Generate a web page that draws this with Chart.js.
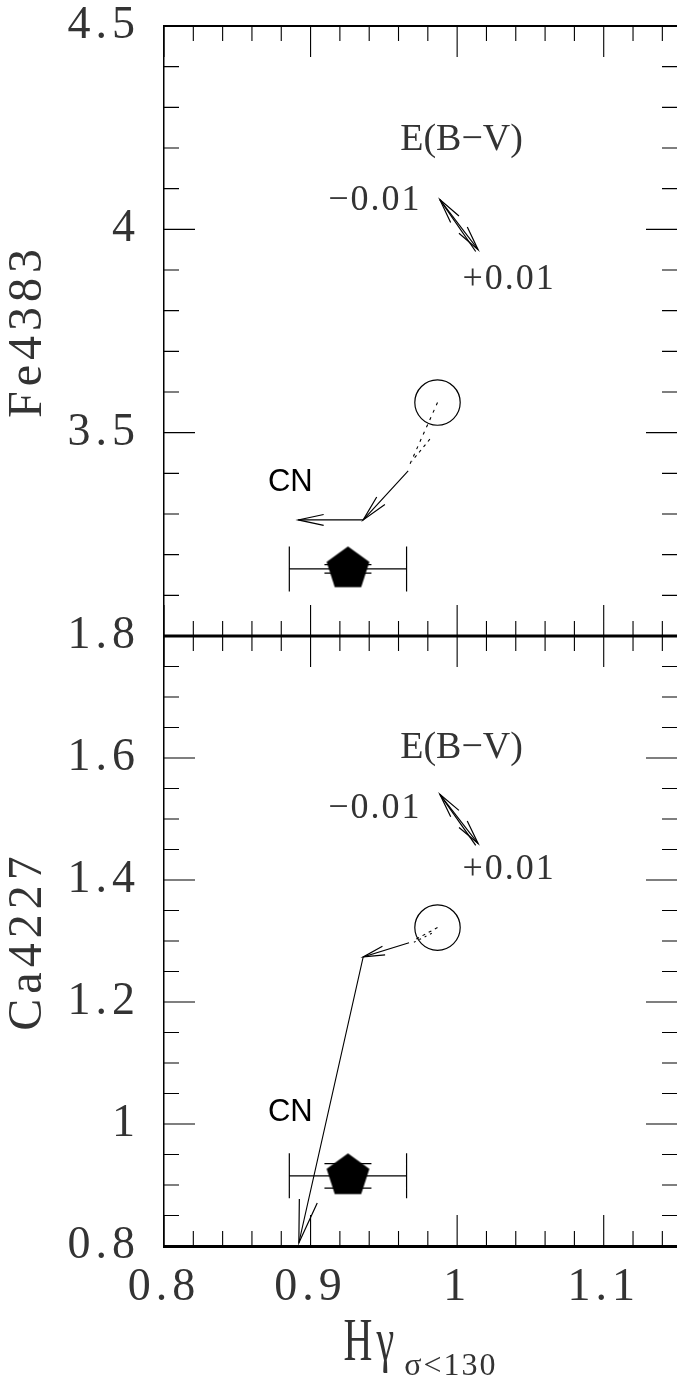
<!DOCTYPE html>
<html>
<head>
<meta charset="utf-8">
<script src="https://cdn.jsdelivr.net/npm/chart.js@4.4.1/dist/chart.umd.min.js"></script>
<style>
  html, body { margin: 0; padding: 0; background: #fff; }
  canvas { display: block; }
</style>
</head>
<body>
<canvas id="fig" width="677" height="1379"></canvas>
<script>
/* ---------- axis ticks ---------- */
const hgStep = 0.02, hgMajor = 0.1;      // Hγ, shared x axis
const feStep = 0.1, feMajor = 0.5;       // Fe4383, top panel
const caStep = 0.05, caMajor = 0.2;      // Ca4227, bottom panel

/* ---------- cluster mean (filled pentagon) ---------- */
const obsHg = [0.9255];
const obsHgErr = [0.04];
const obsFe = [3.165];
const obsFeErr = [0.0105];
const obsCa = [0.915];
const obsCaErr = [0.02];

/* ---------- model prediction (open circle) ---------- */
const modelHg = [0.9866];
const modelFe = [3.574];
const modelCa = [1.322];

/* ---------- top panel vectors ---------- */
const feTrack1Hg = [0.9866, 0.9677], feTrack1Fe = [3.574, 3.422];
const feTrack2Hg = [0.9814, 0.9691], feTrack2Fe = [3.484, 3.430];
const feCnHg = [0.9666, 0.9359, 0.8916], feCnFe = [3.406, 3.2855, 3.2855];
const feEbvHg = [0.9882, 1.0143], feEbvFe = [4.073, 3.950];

/* ---------- bottom panel vectors ---------- */
const caTrack1Hg = [0.9866, 0.9711], caTrack1Ca = [1.322, 1.302];
const caTrack2Hg = [0.9827, 0.9705], caTrack2Ca = [1.3126, 1.2979];
const caCnHg = [0.9672, 0.9359, 0.8920], caCnCa = [1.297, 1.274, 0.805];
const caEbvHg = [0.9882, 1.0143], caEbvCa = [1.5405, 1.4597];

/* ---------- annotations ---------- */
const noteText = ['E(B\u2212V)', '\u22120.01', '+0.01', 'CN'];
const noteHg = [1.003, 0.9439, 1.0354, 0.8862];
const noteFe = [4.220, 4.070, 3.876, 3.378];
const noteCa = [1.616, 1.5167, 1.4167, 1.0192];

/* ---------- styling ---------- */
const serif = "'Liberation Serif', 'DejaVu Serif', serif";
const sans = "'Liberation Sans', Arial, sans-serif";
const ink = '#000';
const textInk = '#333';
const minorLen = 15, majorLen = 31;
const noteStyle = [
  { font: `38px ${serif}`, spacing: '0px' },
  { font: `36px ${serif}`, spacing: '2px' },
  { font: `36px ${serif}`, spacing: '2px' },
  { font: `31px ${sans}`, spacing: '0px' },
];

const isMultiple = (v, step) => Math.abs(v / step - Math.round(v / step)) < 1e-6;
const fmt = v => String(Number(v.toFixed(2)));
const pts = (xs, ys) => xs.map((x, i) => ({ x, y: ys[i] }));

function makePentagon(r) {
  const c = document.createElement('canvas');
  const s = Math.ceil(2 * r + 4);
  c.width = s; c.height = s;
  const g = c.getContext('2d');
  g.translate(s / 2, s / 2);
  g.beginPath();
  for (let k = 0; k < 5; k++) {
    const a = -Math.PI / 2 + k * 2 * Math.PI / 5;
    g.lineTo(r * Math.cos(a), r * Math.sin(a));
  }
  g.closePath();
  g.fillStyle = ink;
  g.fill();
  return c;
}
const pentagon = makePentagon(22.5);

function markerSets(axis, ys, yErr, modelYs) {
  return [
    { yAxisID: axis, data: pts(obsHg, ys), xErr: obsHgErr, yErr,
      pointStyle: pentagon, pointRadius: 22 },
    { yAxisID: axis, data: pts(modelHg, modelYs), pointStyle: 'circle', pointRadius: 22.7,
      borderColor: ink, borderWidth: 1.2, backgroundColor: 'rgba(0,0,0,0)' },
  ];
}
function pathSet(axis, xs, ys, extra) {
  return Object.assign({ yAxisID: axis, data: pts(xs, ys), showLine: true, pointRadius: 0,
    borderColor: ink, borderWidth: 1.1, fill: false }, extra);
}

const datasets = [
  ...markerSets('yFe', obsFe, obsFeErr, modelFe),
  pathSet('yFe', feTrack1Hg, feTrack1Fe, { borderDash: [3, 5] }),
  pathSet('yFe', feTrack2Hg, feTrack2Fe, { borderDash: [3, 4] }),
  pathSet('yFe', feCnHg, feCnFe, { heads: [[0, 1], [1, 2]] }),
  pathSet('yFe', feEbvHg, feEbvFe, { heads: [[1, 0], [0, 1]], twin: true }),
  ...markerSets('yCa', obsCa, obsCaErr, modelCa),
  pathSet('yCa', caTrack1Hg, caTrack1Ca, { borderDash: [3, 4] }),
  pathSet('yCa', caTrack2Hg, caTrack2Ca, { borderDash: [2, 4] }),
  pathSet('yCa', caCnHg, caCnCa, { heads: [[0, 1], [1, 2]] }),
  pathSet('yCa', caEbvHg, caEbvCa, { heads: [[1, 0], [0, 1]], twin: true }),
];

/* wide glyph spacing for the axis numbers and titles */
const spacingPlugin = {
  id: 'spacing',
  beforeUpdate(chart) { chart.ctx.letterSpacing = '5px'; },
  beforeDraw(chart) { chart.ctx.letterSpacing = '5px'; },
};

/* horizontal and vertical error bars under the pentagons */
const errorBarPlugin = {
  id: 'errorBars',
  beforeDatasetsDraw(chart) {
    const { ctx, scales } = chart;
    ctx.save();
    ctx.strokeStyle = ink;
    ctx.lineWidth = 1.2;
    chart.data.datasets.forEach(ds => {
      if (!ds.xErr) return;
      const ys = scales[ds.yAxisID];
      ds.data.forEach((d, j) => {
        const cx = scales.x.getPixelForValue(d.x), cy = ys.getPixelForValue(d.y);
        const xl = scales.x.getPixelForValue(d.x - ds.xErr[j]);
        const xr = scales.x.getPixelForValue(d.x + ds.xErr[j]);
        const yt = ys.getPixelForValue(d.y + ds.yErr[j]);
        const yb = ys.getPixelForValue(d.y - ds.yErr[j]);
        ctx.beginPath();
        ctx.moveTo(xl, cy); ctx.lineTo(xr, cy);
        ctx.moveTo(xl, cy - 22.5); ctx.lineTo(xl, cy + 22.5);
        ctx.moveTo(xr, cy - 22.5); ctx.lineTo(xr, cy + 22.5);
        ctx.moveTo(cx, yt); ctx.lineTo(cx, yb);
        ctx.moveTo(cx - 23.5, yt); ctx.lineTo(cx + 23.5, yt);
        ctx.moveTo(cx - 23.5, yb); ctx.lineTo(cx + 23.5, yb);
        ctx.stroke();
      });
    });
    ctx.restore();
  },
};

/* open arrow heads on the vectors, plus the text notes */
const arrowPlugin = {
  id: 'arrows',
  afterDatasetsDraw(chart) {
    const { ctx, scales } = chart;
    ctx.save();
    ctx.strokeStyle = ink;
    ctx.lineWidth = 1.2;
    chart.data.datasets.forEach((ds, i) => {
      if (!ds.heads) return;
      const el = chart.getDatasetMeta(i).data;
      ds.heads.forEach(([from, to]) => {
        const p0 = el[from], p1 = el[to];
        const dx = p1.x - p0.x, dy = p1.y - p0.y;
        const len = Math.hypot(dx, dy);
        const ang = Math.atan2(dy, dx);
        const head = Math.max(22, Math.min(44, len * 0.4));
        const spread = 0.21;
        ctx.beginPath();
        ctx.moveTo(p1.x - head * Math.cos(ang - spread), p1.y - head * Math.sin(ang - spread));
        ctx.lineTo(p1.x, p1.y);
        ctx.lineTo(p1.x - head * Math.cos(ang + spread), p1.y - head * Math.sin(ang + spread));
        ctx.stroke();
      });
      if (ds.twin) {
        const a = el[0], b = el[1];
        const len = Math.hypot(b.x - a.x, b.y - a.y);
        const nx = -(b.y - a.y) / len * 3, ny = (b.x - a.x) / len * 3;
        ctx.beginPath();
        ctx.moveTo(a.x, a.y); ctx.lineTo(b.x + nx, b.y + ny);
        ctx.stroke();
      }
    });

    ctx.textAlign = 'center';
    ctx.textBaseline = 'middle';
    [['yFe', noteFe], ['yCa', noteCa]].forEach(([axis, ys]) => {
      noteText.forEach((t, k) => {
        ctx.font = noteStyle[k].font;
        ctx.letterSpacing = noteStyle[k].spacing;
        ctx.fillStyle = k === 3 ? ink : textInk;
        ctx.fillText(t, scales.x.getPixelForValue(noteHg[k]), scales[axis].getPixelForValue(ys[k]));
      });
    });
    ctx.restore();
  },
};

/* inward tick marks on all four sides and along the shared edge */
const framePlugin = {
  id: 'frame',
  afterDraw(chart) {
    const { ctx, chartArea: a, scales } = chart;
    const x = scales.x, fe = scales.yFe, ca = scales.yCa;
    const mid = fe.bottom;
    ctx.save();
    ctx.strokeStyle = ink;
    ctx.lineWidth = 1.1;
    ctx.beginPath();
    x.ticks.forEach(t => {
      const px = x.getPixelForValue(t.value);
      const len = isMultiple(t.value, hgMajor) ? majorLen : minorLen;
      ctx.moveTo(px, a.top); ctx.lineTo(px, a.top + len);
      ctx.moveTo(px, mid - len); ctx.lineTo(px, mid + len);
      ctx.moveTo(px, a.bottom - len); ctx.lineTo(px, a.bottom);
    });
    [[fe, feMajor], [ca, caMajor]].forEach(([s, major]) => {
      s.ticks.forEach(t => {
        const py = s.getPixelForValue(t.value);
        const len = isMultiple(t.value, major) ? majorLen : minorLen;
        ctx.moveTo(a.left, py); ctx.lineTo(a.left + len, py);
        ctx.moveTo(a.right - len, py); ctx.lineTo(a.right, py);
      });
    });
    ctx.stroke();
    ctx.lineWidth = 2;
    ctx.beginPath(); ctx.moveTo(a.left, a.top); ctx.lineTo(a.right, a.top); ctx.stroke();
    ctx.lineWidth = 3;
    ctx.beginPath(); ctx.moveTo(a.left, mid); ctx.lineTo(a.right, mid); ctx.stroke();

    // x axis title with its subscript
    ctx.fillStyle = textInk;
    ctx.textAlign = 'left';
    ctx.textBaseline = 'alphabetic';
    ctx.font = `40px ${serif}`;
    ctx.letterSpacing = '4px';
    const main = 'H\u03b3';
    const w1 = ctx.measureText(main).width + 6;
    ctx.font = `32px ${serif}`;
    ctx.letterSpacing = '2px';
    const sub = '\u03c3<130';
    const w2 = ctx.measureText(sub).width;
    const x0 = (a.left + a.right) / 2 - (w1 + w2) / 2;
    const base = a.bottom + 114;
    ctx.fillText(sub, x0 + w1, base + 15);
    ctx.font = `40px ${serif}`;
    ctx.letterSpacing = '4px';
    ctx.translate(x0, base);
    ctx.scale(1, 1.55);
    ctx.fillText(main, 0, 0);
    ctx.restore();
  },
};

const tickFont = { family: serif, size: 46 };

new Chart(document.getElementById('fig').getContext('2d'), {
  type: 'scatter',
  data: { datasets },
  options: {
    responsive: false,
    animation: false,
    devicePixelRatio: 1,
    events: [],
    layout: { autoPadding: false, padding: { top: 26, left: 0, right: 0, bottom: 0 } },
    plugins: { legend: { display: false }, tooltip: { enabled: false } },
    scales: {
      x: {
        type: 'linear', position: 'bottom', min: 0.8, max: 1.15,
        grid: { display: false, drawTicks: false },
        border: { display: true, color: ink, width: 3 },
        ticks: {
          stepSize: hgStep, autoSkip: false, includeBounds: false, maxRotation: 0,
          font: tickFont, color: textInk, padding: 14,
          callback: v => isMultiple(v, hgMajor) ? fmt(v) : '',
        },
        afterFit: s => { s.height = 133; s.paddingLeft = 0; s.paddingRight = 0; },
      },
      yFe: {
        type: 'linear', position: 'left', stack: 'panels', stackWeight: 1, weight: 2,
        min: 3.0, max: 4.5,
        grid: { display: false, drawTicks: false },
        border: { display: true, color: ink, width: 1.5 },
        ticks: {
          stepSize: feStep, autoSkip: false, includeBounds: false,
          font: tickFont, color: textInk, padding: 24,
          callback: v => (isMultiple(v, feMajor) && v > 3.01) ? fmt(v) : '',
        },
        title: { display: true, text: 'Fe4383', font: { family: serif, size: 48 }, color: textInk, padding: 0 },
        afterFit: s => { s.width = 164; s.paddingTop = 0; s.paddingBottom = 0; },
      },
      yCa: {
        type: 'linear', position: 'left', stack: 'panels', stackWeight: 1, weight: 1,
        min: 0.8, max: 1.8,
        grid: { display: false, drawTicks: false },
        border: { display: true, color: ink, width: 1.5 },
        ticks: {
          stepSize: caStep, autoSkip: false, includeBounds: false,
          font: tickFont, color: textInk, padding: 24,
          callback: v => isMultiple(v, caMajor) ? fmt(v) : '',
        },
        title: { display: true, text: 'Ca4227', font: { family: serif, size: 48 }, color: textInk, padding: 0 },
        afterFit: s => { s.width = 164; s.paddingTop = 0; s.paddingBottom = 0; },
      },
    },
  },
  plugins: [spacingPlugin, errorBarPlugin, arrowPlugin, framePlugin],
});
</script>
</body>
</html>
